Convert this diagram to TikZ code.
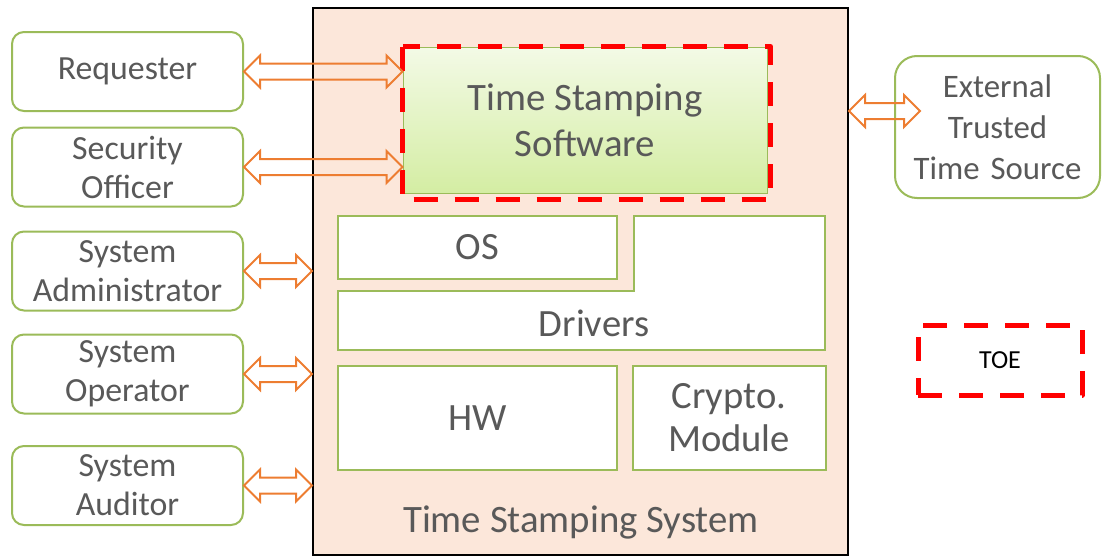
\documentclass[tikz,border=0pt]{standalone}
\usepackage{fontspec}
\setmainfont{Carlito}
\usepackage{tikz}
\usetikzlibrary{calc, positioning}
\definecolor{actgreen}{RGB}{155,187,89}
\definecolor{arroworange}{RGB}{237,125,49}
\definecolor{syspeach}{RGB}{252,231,218}
\definecolor{txtgray}{RGB}{89,89,89}
\definecolor{toered}{RGB}{255,0,0}
\definecolor{swtop}{RGB}{243,250,230}
\definecolor{swbot}{RGB}{212,237,163}

\begin{document}
\begin{tikzpicture}[x=0.5pt, y=-0.5pt,
        actor/.style={draw=actgreen, line width=1pt, rounded corners=6pt, fill=white, minimum width=115.5pt,
                minimum height=39.5pt, align=center, text=txtgray, inner sep=0pt,
                font=\fontsize{16.9}{19.5}\selectfont},
        tsspart/.style={draw=actgreen, line width=1pt, fill=white, align=center, text=txtgray, inner sep=0pt,
                font=\fontsize{19.3}{21.5}\selectfont},
        toebox/.style={draw=toered, line width=2.5pt, line join=round, dash pattern=on 12pt off 8.5pt},
        dblarrow/.style={draw=arroworange, line width=1pt, to path={
                let \p1=(\tikztostart), \p2=(\tikztotarget) in
                (\x1,\y1) -- (\x1+8pt,\y1+8pt) -- (\x1+8pt,\y1+4pt) -- (\x2-8pt,\y1+4pt) -- (\x2-8pt,\y1+8pt)
                -- (\x2,\y1) -- (\x2-8pt,\y1-8pt) -- (\x2-8pt,\y1-4pt) -- (\x1+8pt,\y1-4pt)
                -- (\x1+8pt,\y1-8pt) -- cycle}}]
        \useasboundingbox (0,0) rectangle (1102,557);

        % actors on the left
        \foreach \nm/\yy/\txt in {req/71.5/Requester, off/167/{Security\\Officer},
                adm/271/{System\\Administrator}, opr/374/{System\\Operator}, aud/485.5/{System\\Auditor}}
            \node[actor] (\nm) at (127.5,\yy) {\txt};

        % the system
        \node[draw=black, line width=1pt, fill=syspeach, minimum width=267.5pt, minimum height=273.5pt,
              inner sep=0pt] (sys) at (580.5,281.5) {};
        \node[font=\fontsize{19.4}{22}\selectfont, text=txtgray] (syslbl) at (581,522) {Time Stamping System};

        \node[draw=actgreen, line width=.5pt, top color=swtop, bottom color=swbot, minimum width=182pt,
              minimum height=73pt, align=center, text=txtgray, font=\fontsize{19.4}{23}\selectfont]
              (tsssw) at (585,120) {Time Stamping\\Software};
        \draw[toebox] (tsssw.north west) rectangle ($(tsssw.south east)+(3,6)$);

        \node[tsspart, minimum width=139.5pt, minimum height=31.5pt] (os) at (477.5,247.5) {OS};
        \draw[actgreen, line width=1pt, fill=white] (634,216) -- (825,216) -- (825,350) -- (338,350)
            -- (338,291) -- (634,291) -- cycle;
        \node[text=txtgray, font=\fontsize{19.3}{22}\selectfont] (drv) at (594,323) {Drivers};
        \node[tsspart, minimum width=139.5pt, minimum height=52pt] (hw) at (477.5,418) {HW};
        \node[tsspart, minimum width=96.5pt, minimum height=52pt] (cry) at (729,418) {Crypto.\\Module};

        % outside time source and legend
        \node[actor, rounded corners=11pt, minimum width=102.5pt, minimum height=71pt, text width=102.5pt,
              font=\fontsize{16.4}{20.5}\selectfont] (ext) at (997.5,127) {External\\Trusted\\Time Source};
        \node[toebox, minimum width=82pt, minimum height=35pt, font=\fontsize{13}{15}\selectfont]
              (toe) at (1000,360) {TOE};

        % connectors
        \draw[dblarrow] (req.east) to (tsssw.west |- req.east);
        \draw[dblarrow] (off.east) to (tsssw.west |- off.east);
        \foreach \a in {adm, opr, aud}
            \draw[dblarrow] (\a.east) to (sys.west |- \a.east);
        \coordinate (extin) at (920,111);
        \draw[dblarrow] (sys.east |- extin) to (extin);
\end{tikzpicture}
\end{document}
